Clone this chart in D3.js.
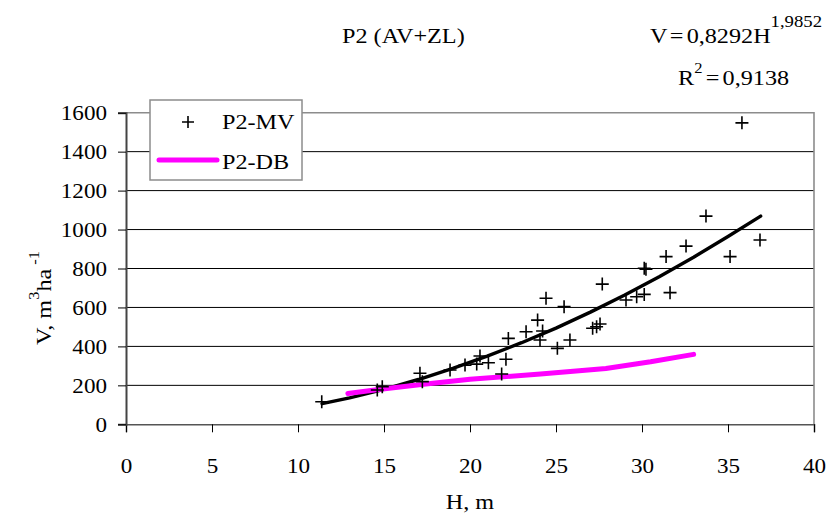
<!DOCTYPE html>
<html>
<head>
<meta charset="utf-8">
<script src="https://cdn.jsdelivr.net/npm/d3@7"></script>
<style>
  html, body { margin: 0; padding: 0; background: #fff; }
  svg text { font-family: "Liberation Serif", "Times New Roman", serif; fill: #000; }
</style>
</head>
<body>
<svg id="chart" width="831" height="522"></svg>
<script>
// ---- data ----
const mvH = [11.38, 14.61, 14.90, 17.09, 17.23, 18.84, 19.71, 20.39, 20.58, 21.07, 21.84, 22.09, 22.23, 23.26, 23.93, 24.07, 24.22, 24.42, 25.08, 25.47, 25.81, 27.13, 27.36, 27.56, 27.69, 29.07, 29.69, 30.13, 30.13, 30.23, 31.40, 31.63, 32.56, 33.72, 35.12, 36.86, 35.81];
const mvV = [116, 176, 193, 262, 219, 279, 304, 309, 351, 316, 258, 334, 441, 475, 535, 433, 479, 647, 390, 604, 433, 493, 501, 515, 720, 638, 655, 667, 801, 796, 861, 676, 915, 1069, 861, 946, 1548];

const trendH = [11.4, 13, 15, 17, 19, 21, 23, 25, 27, 29, 31, 33, 35, 36.9];
const trendV = [106, 136, 179, 230, 287, 350, 419, 494, 576, 664, 758, 858, 964, 1069];

const dbH = [12.9, 14.8, 17.3, 20.0, 24.1, 27.9, 30.5, 33.0];
const dbV = [158, 180, 206, 231, 258, 287, 321, 359];

const xTicks = [0, 5, 10, 15, 20, 25, 30, 35, 40];
const yTicks = [0, 200, 400, 600, 800, 1000, 1200, 1400, 1600];

const seriesNames = ["P2-MV", "P2-DB"];
const titleText = "P2 (AV+ZL)";
const xLabel = "H, m";

// ---- drawing ----
const svg = d3.select("#chart");
const SX = 1.1; // horizontal stretch of text seen in reference

const x = d3.scaleLinear().domain([0, 40]).range([126, 814]);
const y = d3.scaleLinear().domain([0, 1600]).range([424.3, 112.7]);

// gridlines
svg.append("g").selectAll("line")
  .data(yTicks.filter(v => v > 0 && v < 1600))
  .join("line")
  .attr("x1", x(0)).attr("x2", x(40))
  .attr("y1", d => y(d)).attr("y2", d => y(d))
  .attr("stroke", "#000").attr("stroke-width", 1);

// plot border top/right
svg.append("path")
  .attr("d", `M${x(0)},${y(1600)}H${x(40)}V${y(0)}`)
  .attr("fill", "none").attr("stroke", "#8c8c8c").attr("stroke-width", 1.6);

// x axis
const xAxis = svg.append("g").attr("transform", `translate(0,${y(0)})`)
  .call(d3.axisBottom(x).tickValues(xTicks).tickSize(8).tickFormat(d3.format("d")));
xAxis.select(".domain").attr("stroke", "#555").attr("stroke-width", 1.6);
xAxis.selectAll(".tick line").attr("stroke", "#000");
xAxis.selectAll(".tick text")
  .attr("font-size", 21).attr("y", 0).attr("dy", 0)
  .attr("transform", `translate(0,49) scale(${SX},1)`);

// y axis
const yAxis = svg.append("g").attr("transform", `translate(${x(0)},0)`)
  .call(d3.axisLeft(y).tickValues(yTicks).tickSize(8).tickFormat(d3.format("d")));
yAxis.select(".domain").attr("stroke", "#444").attr("stroke-width", 2);
yAxis.selectAll(".tick line").attr("stroke", "#000");
yAxis.selectAll(".tick text")
  .attr("font-size", 21).attr("x", 0).attr("dy", 0)
  .attr("transform", `translate(-19,7) scale(${SX},1)`);

// trend line (power fit)
const line = d3.line().x(d => x(d[0])).y(d => y(d[1]));
svg.append("path")
  .datum(trendH.map((h, i) => [h, trendV[i]]))
  .attr("d", line)
  .attr("fill", "none").attr("stroke", "#000").attr("stroke-width", 3.4)
  .attr("stroke-linejoin", "round").attr("stroke-linecap", "round");

// P2-DB line
svg.append("path")
  .datum(dbH.map((h, i) => [h, dbV[i]]))
  .attr("d", line)
  .attr("fill", "none").attr("stroke", "#ff00ff").attr("stroke-width", 5)
  .attr("stroke-linejoin", "round").attr("stroke-linecap", "round");

// P2-MV markers
const plus = (g, cx, cy, r) => {
  g.append("path")
    .attr("d", `M${cx - r},${cy}H${cx + r}M${cx},${cy - r}V${cy + r}`)
    .attr("stroke", "#000").attr("stroke-width", 1.6).attr("fill", "none");
};
const mk = svg.append("g");
mvH.forEach((h, i) => plus(mk, x(h), y(mvV[i]), 6.5));

// legend
const lg = svg.append("g");
lg.append("rect").attr("x", 150).attr("y", 100).attr("width", 152).attr("height", 80)
  .attr("fill", "#fff").attr("stroke", "#8c8c8c").attr("stroke-width", 1.5);
plus(lg, 188, 122, 6);
lg.append("line").attr("x1", 159).attr("x2", 217).attr("y1", 160).attr("y2", 160)
  .attr("stroke", "#ff00ff").attr("stroke-width", 5).attr("stroke-linecap", "round");
lg.append("text").attr("font-size", 22)
  .attr("transform", `translate(222,129) scale(${SX},1)`).text(seriesNames[0]);
lg.append("text").attr("font-size", 22)
  .attr("transform", `translate(222,169) scale(${SX},1)`).text(seriesNames[1]);

// title
svg.append("text").attr("font-size", 22)
  .attr("transform", `translate(342,43) scale(${SX},1)`).text(titleText);

// equation
const eq = svg.append("text").attr("font-size", 22)
  .attr("transform", `translate(650,43) scale(${SX},1)`);
eq.append("tspan").text("V");
eq.append("tspan").attr("dx", 2).text("=");
eq.append("tspan").attr("dx", 3).text("0,8292H");
eq.append("tspan").attr("font-size", 17).attr("dy", -16).text("1,9852");
const r2 = svg.append("text").attr("font-size", 22)
  .attr("transform", `translate(678,85) scale(${SX},1)`);
r2.append("tspan").text("R");
r2.append("tspan").attr("font-size", 15).attr("dy", -12).text("2");
r2.append("tspan").attr("dy", 12).attr("dx", 3).text("=");
r2.append("tspan").attr("dx", 3).text("0,9138");

// axis titles
svg.append("text").attr("font-size", 22).attr("text-anchor", "middle")
  .attr("transform", `translate(470,509) scale(${SX},1)`).text(xLabel);

const yl = svg.append("text").attr("font-size", 22).attr("text-anchor", "middle")
  .attr("transform", `translate(51,298) rotate(-90) scale(${SX},1)`);
yl.append("tspan").text("V, m");
yl.append("tspan").attr("font-size", 15).attr("dy", -12).text("3");
yl.append("tspan").attr("dy", 12).text("ha");
yl.append("tspan").attr("font-size", 15).attr("dy", -12).text(" -1");
</script>
</body>
</html>
